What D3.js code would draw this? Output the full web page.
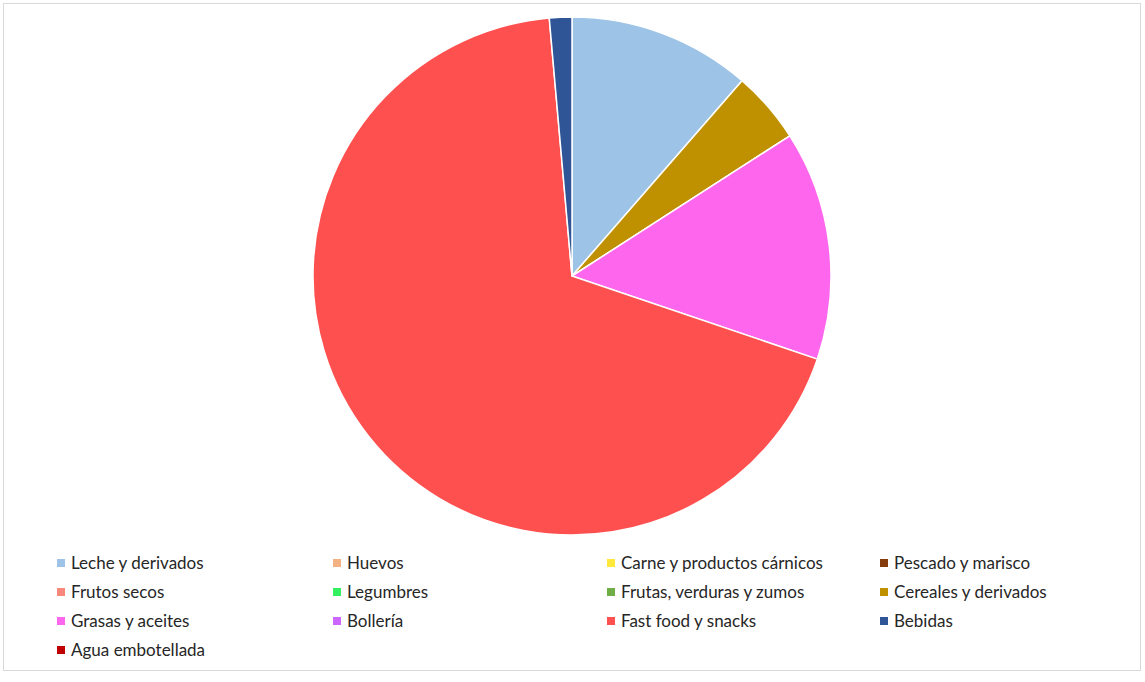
<!DOCTYPE html>
<html>
<head>
<meta charset="utf-8">
<script src="https://cdn.jsdelivr.net/npm/d3@7"></script>
<style>
  body { margin: 0; background: #fff; }
  svg { display: block; }
</style>
</head>
<body>
<div id="chart"></div>
<script>
// categories, values (%) and colours
var categories = [
    'Leche y derivados', 'Huevos', 'Carne y productos cárnicos', 'Pescado y marisco',
    'Frutos secos', 'Legumbres', 'Frutas, verduras y zumos', 'Cereales y derivados',
    'Grasas y aceites', 'Bollería', 'Fast food y snacks', 'Bebidas',
    'Agua embotellada'
];
var values = [11.4, 0, 0, 0, 0, 0, 0, 4.5, 14.3, 0, 68.4, 1.4, 0];
var colors = [
    '#9DC3E6', '#F4B183', '#FFE93A', '#843C0C',
    '#F8877C', '#33F060', '#70AD47', '#BF9000',
    '#FF66EE', '#CC66FF', '#FF5050', '#2F5597',
    '#C00000'
];

var width  = 1145;
var height = 682;
var cx = 572, cy = 276, radius = 259;

var svg = d3.select('#chart')
    .append('svg')
    .attr('width', width)
    .attr('height', height);

// chart border
svg.append('rect')
    .attr('x', 3.5)
    .attr('y', 3.5)
    .attr('width', 1137)
    .attr('height', 667)
    .attr('fill', '#fff')
    .attr('stroke', '#d9d9d9')
    .attr('stroke-width', 1);

var data = categories.map(function(c, i) {
    return { name: c, value: values[i], color: colors[i] };
});

var pie = d3.pie()
    .sort(null)
    .value(function(d) { return d.value; });

var arc = d3.arc()
    .innerRadius(0)
    .outerRadius(radius);

svg.append('g')
    .attr('transform', 'translate(' + cx + ',' + cy + ')')
    .selectAll('path')
    .data(pie(data).filter(function(d) { return d.data.value > 0; }))
    .enter()
    .append('path')
    .attr('d', arc)
    .attr('fill', function(d) { return d.data.color; })
    .attr('stroke', '#fff')
    .attr('stroke-width', 1.5)
    .attr('stroke-linejoin', 'round');

// legend, 4 columns
var colX = [57, 333, 607, 880];
var rowY = [563, 592, 621, 650];

var legend = svg.append('g')
    .selectAll('g')
    .data(data)
    .enter()
    .append('g')
    .attr('transform', function(d, i) {
        return 'translate(' + colX[i % 4] + ',' + rowY[Math.floor(i / 4)] + ')';
    });

legend.append('rect')
    .attr('x', 0)
    .attr('y', -4)
    .attr('width', 8)
    .attr('height', 8)
    .attr('fill', function(d) { return d.color; });

legend.append('text')
    .attr('x', 14)
    .attr('y', 0)
    .attr('dy', '0.35em')
    .attr('font-family', 'Lato, sans-serif')
    .attr('font-size', 17)
    .attr('fill', '#262626')
    .text(function(d) { return d.name; });
</script>
</body>
</html>
